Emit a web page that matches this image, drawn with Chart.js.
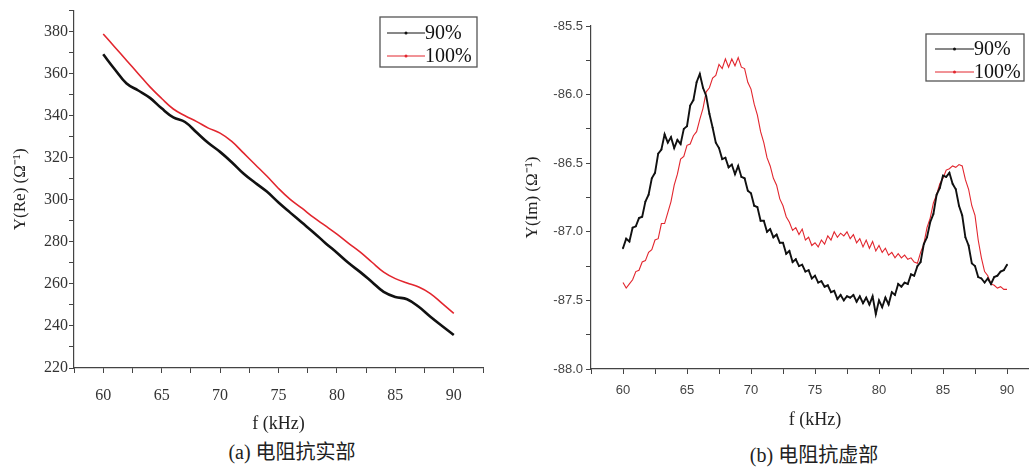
<!DOCTYPE html>
<html>
<head>
<meta charset="utf-8">
<script src="https://cdn.jsdelivr.net/npm/chart.js@4"></script>
<style>
  html, body { margin: 0; padding: 0; background: #fff; width: 1029px; height: 470px; overflow: hidden; }
  canvas { position: absolute; top: 0; }
  #chart-re { left: 0; }
  #chart-im { left: 520px; }
  .caption {
    position: absolute; line-height: 24px; white-space: nowrap; transform: translateX(-50%);
    font-family: 'Liberation Serif', 'Noto Sans CJK SC', serif; font-size: 20px; color: #222;
  }
</style>
</head>
<body>
<canvas id="chart-re" width="500" height="440"></canvas>
<canvas id="chart-im" width="540" height="440"></canvas>
<div class="caption" style="left:292px;top:440px">(a) 电阻抗实部</div>
<div class="caption" style="left:814px;top:443px">(b) 电阻抗虚部</div>

<script>
/* (a) real part, 1 kHz steps */
const freqRe = [60, 61, 62, 63, 64, 65, 66, 67, 68, 69, 70, 71, 72, 73, 74, 75, 76, 77, 78, 79, 80, 81, 82, 83, 84, 85, 86, 87, 88, 89, 90];
const re90 = [369.2, 362.0, 355.3, 352.0, 348.5, 343.5, 339.2, 337.0, 332.0, 327.0, 322.8, 317.9, 312.5, 308.1, 303.9, 298.7,
  293.9, 289.2, 284.5, 279.5, 274.8, 269.9, 265.6, 260.9, 256.2, 253.8, 252.7, 249.1, 244.4, 240.0, 235.7];
const re100 = [378.9, 372.6, 366.3, 360.0, 353.7, 348.2, 343.2, 340.0, 337.2, 334.1, 331.7, 327.8, 322.3, 316.8, 311.3, 305.4,
  300.2, 296.0, 291.6, 287.7, 283.7, 279.3, 275.1, 270.3, 265.6, 262.5, 260.4, 258.5, 255.4, 250.7, 246.0];

/* (b) imaginary part, 0.25 kHz steps */
const freqIm = [
  60, 60.25, 60.5, 60.75, 61, 61.25, 61.5, 61.75,
  62, 62.25, 62.5, 62.75, 63, 63.25, 63.5, 63.75,
  64, 64.25, 64.5, 64.75, 65, 65.25, 65.5, 65.75,
  66, 66.25, 66.5, 66.75, 67, 67.25, 67.5, 67.75,
  68, 68.25, 68.5, 68.75, 69, 69.25, 69.5, 69.75,
  70, 70.25, 70.5, 70.75, 71, 71.25, 71.5, 71.75,
  72, 72.25, 72.5, 72.75, 73, 73.25, 73.5, 73.75,
  74, 74.25, 74.5, 74.75, 75, 75.25, 75.5, 75.75,
  76, 76.25, 76.5, 76.75, 77, 77.25, 77.5, 77.75,
  78, 78.25, 78.5, 78.75, 79, 79.25, 79.5, 79.75,
  80, 80.25, 80.5, 80.75, 81, 81.25, 81.5, 81.75,
  82, 82.25, 82.5, 82.75, 83, 83.25, 83.5, 83.75,
  84, 84.25, 84.5, 84.75, 85, 85.25, 85.5, 85.75,
  86, 86.25, 86.5, 86.75, 87, 87.25, 87.5, 87.75,
  88, 88.25, 88.5, 88.75, 89, 89.25, 89.5, 89.75,
  90];
const im90 = [
  -87.12, -87.05, -87.07, -86.97, -86.96, -86.90, -86.89, -86.78,
  -86.73, -86.61, -86.57, -86.43, -86.40, -86.29, -86.35, -86.31,
  -86.39, -86.33, -86.36, -86.25, -86.23, -86.08, -86.04, -85.91,
  -85.85, -85.95, -86.01, -86.14, -86.24, -86.35, -86.39, -86.47,
  -86.46, -86.53, -86.51, -86.58, -86.52, -86.60, -86.61, -86.70,
  -86.72, -86.81, -86.82, -86.92, -86.92, -87.00, -86.98, -87.04,
  -87.02, -87.08, -87.08, -87.16, -87.14, -87.22, -87.20, -87.25,
  -87.24, -87.29, -87.28, -87.34, -87.32, -87.37, -87.36, -87.40,
  -87.39, -87.44, -87.43, -87.49, -87.46, -87.50, -87.47, -87.48,
  -87.46, -87.51, -87.47, -87.52, -87.48, -87.53, -87.47, -87.60,
  -87.50, -87.55, -87.48, -87.53, -87.44, -87.46, -87.38, -87.40,
  -87.37, -87.38, -87.31, -87.32, -87.25, -87.22, -87.09, -87.04,
  -86.93, -86.87, -86.73, -86.68, -86.59, -86.60, -86.57, -86.65,
  -86.69, -86.81, -86.88, -87.04, -87.10, -87.23, -87.25, -87.33,
  -87.34, -87.37, -87.34, -87.38, -87.33, -87.32, -87.29, -87.28,
  -87.24];
const im100 = [
  -87.37, -87.41, -87.38, -87.35, -87.29, -87.28, -87.22, -87.21,
  -87.15, -87.13, -87.06, -87.05, -86.94, -86.94, -86.86, -86.78,
  -86.66, -86.58, -86.47, -86.45, -86.37, -86.36, -86.30, -86.27,
  -86.18, -86.10, -85.98, -85.95, -85.88, -85.86, -85.78, -85.81,
  -85.74, -85.80, -85.74, -85.79, -85.73, -85.80, -85.81, -85.91,
  -85.96, -86.07, -86.15, -86.27, -86.35, -86.46, -86.52, -86.61,
  -86.66, -86.76, -86.81, -86.89, -86.93, -86.99, -86.97, -87.02,
  -86.98, -87.06, -87.04, -87.10, -87.08, -87.11, -87.06, -87.09,
  -87.03, -87.06, -87.00, -87.04, -87.01, -87.03, -87.00, -87.05,
  -87.02, -87.08, -87.05, -87.11, -87.06, -87.12, -87.07, -87.14,
  -87.10, -87.15, -87.12, -87.17, -87.15, -87.19, -87.16, -87.19,
  -87.17, -87.20, -87.19, -87.22, -87.23, -87.15, -87.09, -86.97,
  -86.90, -86.79, -86.73, -86.65, -86.61, -86.55, -86.54, -86.52,
  -86.53, -86.51, -86.52, -86.62, -86.69, -86.81, -86.88, -87.06,
  -87.19, -87.29, -87.32, -87.38, -87.39, -87.41, -87.40, -87.42,
  -87.42];

/* tick positions (labels only on the major ones) */
const xTicks = [57.5, 60, 62.5, 65, 67.5, 70, 72.5, 75, 77.5, 80, 82.5, 85, 87.5, 90, 92.5];
const reTicks = [220, 230, 240, 250, 260, 270, 280, 290, 300, 310, 320, 330, 340, 350, 360, 370, 380, 390];
const imTicks = [-88, -87.75, -87.5, -87.25, -87, -86.75, -86.5, -86.25, -86, -85.75, -85.5];

const seriesLabels = ['90%', '100%'];
const BLACK = '#111111';
const RED = '#e2262e';
const AXIS = '#444444';

function points(xs, ys) {
  return xs.map((x, i) => ({ x: x, y: ys[i] }));
}

function fixedTicks(values) {
  return (axis) => { axis.ticks = values.map((v) => ({ value: v })); };
}

// legend drawn as a framed box like the original figure
const boxLegend = {
  id: 'boxLegend',
  afterDraw(chart, args, o) {
    const ctx = chart.ctx;
    ctx.save();
    ctx.strokeStyle = '#555';
    ctx.lineWidth = 1.3;
    ctx.strokeRect(o.x, o.y, o.w, o.h);
    ctx.font = o.font;
    ctx.textBaseline = 'middle';
    chart.data.datasets.forEach((ds, i) => {
      const y = o.y + o.first + i * o.gap;
      const x0 = o.x + o.pad;
      const x1 = x0 + o.len;
      ctx.strokeStyle = ds.borderColor;
      ctx.lineWidth = 1;
      ctx.beginPath();
      ctx.moveTo(x0, y);
      ctx.lineTo(x1, y);
      ctx.stroke();
      ctx.fillStyle = ds.borderColor;
      ctx.beginPath();
      ctx.arc((x0 + x1) / 2, y, 1.5, 0, Math.PI * 2);
      ctx.fill();
      ctx.fillStyle = '#111';
      ctx.fillText(ds.label, x1, y + 1);
    });
    ctx.restore();
  },
};

function axisGrid() {
  return { display: true, drawOnChartArea: false, drawTicks: true, tickLength: 5, color: AXIS, lineWidth: 1 };
}

// (a) real part
new Chart(document.getElementById('chart-re'), {
  type: 'line',
  data: {
    datasets: [
      { label: seriesLabels[0], data: points(freqRe, re90), borderColor: BLACK, borderWidth: 2.6, pointRadius: 0, tension: 0.4 },
      { label: seriesLabels[1], data: points(freqRe, re100), borderColor: RED, borderWidth: 1.6, pointRadius: 0, tension: 0.4 },
    ],
  },
  plugins: [boxLegend],
  options: {
    responsive: false,
    animation: false,
    layout: { padding: { top: 8, right: 17, left: 0, bottom: 0 } },
    plugins: {
      legend: { display: false },
      tooltip: { enabled: false },
      boxLegend: { x: 380, y: 17, w: 97, h: 50, pad: 7, len: 38, first: 16, gap: 23, font: '20px "Liberation Serif"' },
    },
    scales: {
      x: {
        type: 'linear',
        min: 57.5,
        max: 92.5,
        afterBuildTicks: fixedTicks(xTicks),
        afterFit: (s) => { s.height = 72; },
        grid: axisGrid(),
        border: { display: true, color: AXIS, width: 1.2 },
        ticks: {
          autoSkip: false, maxRotation: 0, padding: 13, color: '#333',
          font: { family: 'Liberation Serif', size: 16 },
          callback: (v) => (v % 5 === 0 ? v : ''),
        },
        title: { display: true, text: 'f (kHz)', color: '#222', padding: { bottom: 5 }, font: { family: 'Liberation Serif', size: 18 } },
      },
      y: {
        min: 220,
        max: 390,
        afterBuildTicks: fixedTicks(reTicks),
        afterFit: (s) => { s.width = 74; },
        grid: axisGrid(),
        border: { display: true, color: AXIS, width: 1.2 },
        ticks: {
          autoSkip: false, padding: 1, color: '#333',
          font: { family: 'Liberation Serif', size: 16 },
          callback: (v) => (v % 20 === 0 ? v : ''),
        },
        title: { display: true, text: 'Y(Re) (Ω⁻¹)', color: '#222', padding: { top: 10 }, font: { family: 'Liberation Serif', size: 17 } },
      },
    },
  },
});

// (b) imaginary part
new Chart(document.getElementById('chart-im'), {
  type: 'line',
  data: {
    datasets: [
      { label: seriesLabels[0], data: points(freqIm, im90), borderColor: BLACK, borderWidth: 1.9, pointRadius: 0.9, pointBackgroundColor: BLACK, pointBorderWidth: 0, tension: 0 },
      { label: seriesLabels[1], data: points(freqIm, im100), borderColor: RED, borderWidth: 1.1, pointRadius: 0, tension: 0 },
    ],
  },
  plugins: [boxLegend],
  options: {
    responsive: false,
    animation: false,
    layout: { padding: { top: 26, right: 21, left: 0, bottom: 0 } },
    plugins: {
      legend: { display: false },
      tooltip: { enabled: false },
      boxLegend: { x: 406, y: 34, w: 98, h: 47, pad: 9, len: 39, first: 15, gap: 23, font: '20px "Liberation Serif"' },
    },
    scales: {
      x: {
        type: 'linear',
        min: 57.5,
        max: 92.5,
        afterBuildTicks: fixedTicks(xTicks),
        afterFit: (s) => { s.height = 71; },
        grid: axisGrid(),
        border: { display: true, color: AXIS, width: 1.2 },
        ticks: {
          autoSkip: false, maxRotation: 0, padding: 9, color: '#444',
          font: { family: 'Liberation Sans', size: 13 },
          callback: (v) => (v % 5 === 0 ? v : ''),
        },
        title: { display: true, text: 'f (kHz)', color: '#222', padding: { bottom: 9 }, font: { family: 'Liberation Serif', size: 18 } },
      },
      y: {
        min: -88,
        max: -85.5,
        afterBuildTicks: fixedTicks(imTicks),
        afterFit: (s) => { s.width = 71; },
        grid: axisGrid(),
        border: { display: true, color: AXIS, width: 1.2 },
        ticks: {
          autoSkip: false, padding: 3, color: '#444',
          font: { family: 'Liberation Sans', size: 13 },
          callback: (v) => (Math.abs(v * 2 - Math.round(v * 2)) < 1e-6 ? v.toFixed(1) : ''),
        },
        title: { display: true, text: 'Y(Im) (Ω⁻¹)', color: '#222', padding: { top: 2 }, font: { family: 'Liberation Serif', size: 17 } },
      },
    },
  },
});
</script>
</body>
</html>
